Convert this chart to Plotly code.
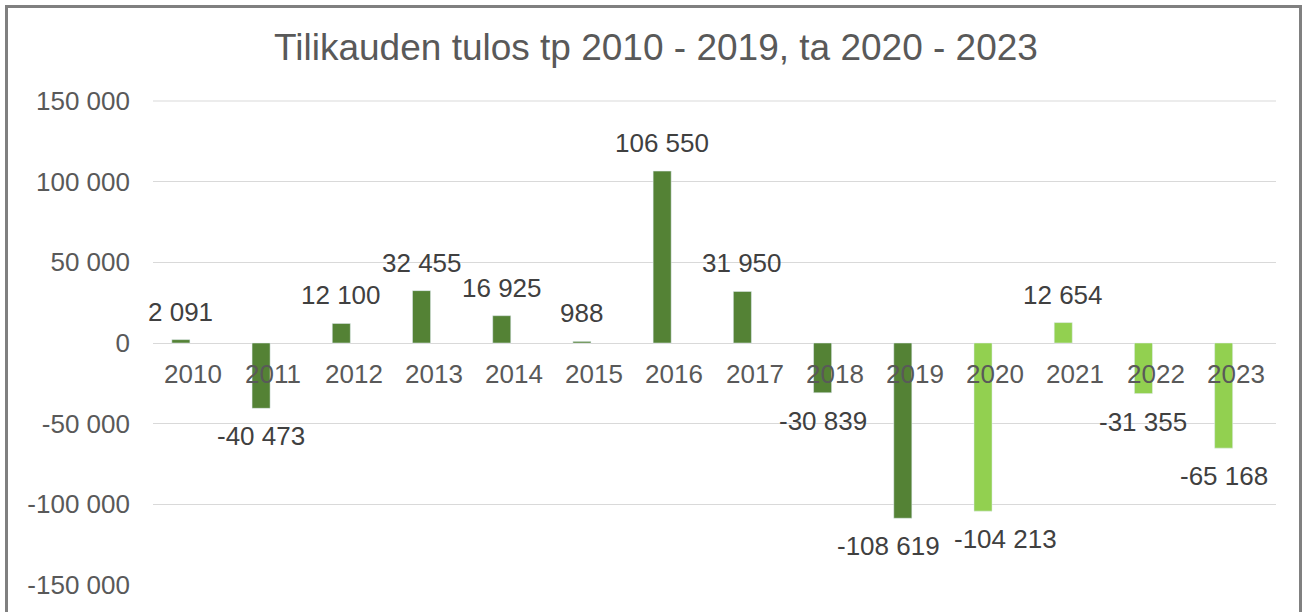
import plotly.graph_objects as go

years = ["2010", "2011", "2012", "2013", "2014", "2015", "2016",
         "2017", "2018", "2019", "2020", "2021", "2022", "2023"]
tp_values = [2091, -40473, 12100, 32455, 16925, 988, 106550,
             31950, -30839, -108619, None, None, None, None]
ta_values = [None, None, None, None, None, None, None,
             None, None, None, -104213, 12654, -31355, -65168]
y_tickvals = [150000, 100000, 50000, 0, -50000, -100000, -150000]
y_ticktext = ["150 000", "100 000", "50 000", "0", "-50 000", "-100 000", "-150 000"]
title_text = "Tilikauden tulos tp 2010 - 2019, ta 2020 - 2023"

# manual pixel nudges of a few data labels (as in the original chart)
label_nudge_px = {"2019": -14, "2020": 22}

FONT = "Liberation Sans, Arial, sans-serif"
DARK = "#548235"
LIGHT = "#92D050"
BAR_W = 0.225
BAR_OFF = -0.265

def fmt(v):
    s = f"{abs(v):,}".replace(",", " ")
    return ("-" if v < 0 else "") + s

fig = go.Figure()
fig.add_trace(go.Bar(x=years, y=tp_values, marker_color=DARK, width=BAR_W,
                     offset=BAR_OFF, name="tp", hoverinfo="x+y"))
fig.add_trace(go.Bar(x=years, y=ta_values, marker_color=LIGHT, width=BAR_W,
                     offset=BAR_OFF, name="ta", hoverinfo="x+y"))

annotations = []
bar_center = BAR_OFF + BAR_W / 2
for series in (tp_values, ta_values):
    for i, v in enumerate(series):
        if v is None:
            continue
        annotations.append(dict(
            x=i + bar_center, y=v, xref="x", yref="y", text=fmt(v), showarrow=False,
            xshift=label_nudge_px.get(years[i], 0),
            yshift=11 if v >= 0 else -11,
            yanchor="bottom" if v >= 0 else "top",
            font=dict(family=FONT, size=26, color="#404040")))
for i, yr in enumerate(years):
    annotations.append(dict(
        x=i, y=0, xref="x", yref="y", text=yr, showarrow=False,
        yanchor="top", yshift=-14,
        font=dict(family=FONT, size=26, color="#595959")))

fig.update_layout(
    width=1306, height=612,
    margin=dict(l=153, r=30, t=101, b=24),
    paper_bgcolor="white", plot_bgcolor="white",
    barmode="relative",
    showlegend=False,
    title=dict(text=title_text, x=656 / 1306, xanchor="center", xref="container",
               y=1 - 47 / 612, yanchor="middle", yref="container",
               font=dict(family=FONT, size=37, color="#595959")),
    xaxis=dict(type="category", showticklabels=False, showgrid=False,
               zeroline=False, showline=False, ticks="",
               range=[-0.5, len(years) - 0.5]),
    yaxis=dict(range=[-150000, 150000], tickvals=y_tickvals, ticktext=y_ticktext,
               showgrid=True, gridcolor="#D9D9D9", gridwidth=1,
               zeroline=True, zerolinecolor="#D9D9D9", zerolinewidth=1,
               showline=False, ticks="", ticklabelstandoff=22,
               tickfont=dict(family=FONT, size=26, color="#595959")),
    annotations=annotations,
    shapes=[
        dict(type="line", xref="paper", yref="paper", x0=0, x1=1, y0=1, y1=1,
             line=dict(color="#D9D9D9", width=1), layer="below"),
        dict(type="rect", xref="paper", yref="paper",
             x0=(6.5 - 153) / 1123, x1=(1300.5 - 153) / 1123,
             y0=(588 - 640) / 487, y1=(588 - 6) / 487,
             line=dict(color="#808080", width=3), fillcolor="rgba(0,0,0,0)",
             layer="above"),
    ],
)

fig.write_html("out.html", config={"displayModeBar": False},
               post_script="document.body.style.margin='0';document.body.style.padding='0';document.body.style.overflow='hidden';")
